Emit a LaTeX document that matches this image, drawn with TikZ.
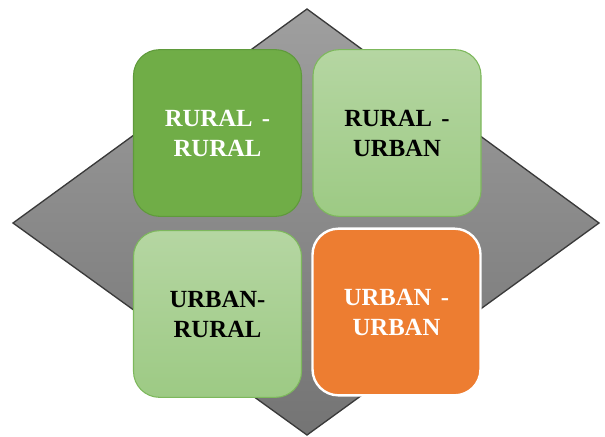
\documentclass[tikz,border=0pt]{standalone}
\usepackage{fontspec}
\setmainfont{Liberation Serif}
\definecolor{leaf}{HTML}{70AD47}
\definecolor{leafedge}{HTML}{5F9A3B}
\definecolor{paletop}{HTML}{B5D6A2}
\definecolor{palebot}{HTML}{9DCA84}
\definecolor{paleedge}{HTML}{7DB85C}
\definecolor{clay}{HTML}{ED7D31}
\definecolor{slatetop}{HTML}{9F9F9F}
\definecolor{slatebot}{HTML}{747474}
\definecolor{slateedge}{HTML}{3A3A3A}
\usetikzlibrary{positioning}
\tikzset{
  tile/.style={rounded corners=19.5pt, minimum width=126pt, minimum height=125pt,
               align=center, inner sep=0pt, line width=0.8pt,
               font=\fontsize{18.5}{22.5}\selectfont\bfseries},
  darktile/.style={tile, fill=leaf, draw=leafedge, text=white},
  paletile/.style={tile, top color=paletop, bottom color=palebot, draw=paleedge, text=black},
  hottile/.style={tile, fill=clay, draw=white, line width=1.8pt, text=white},
}
\newcommand{\dashgap}{\hspace{0.38em}-}

\begin{document}
\begin{tikzpicture}[x=0.75pt,y=-0.75pt]
\useasboundingbox (0,0) rectangle (605,436);
% grey diamond behind the four tiles
\shade[top color=slatetop, bottom color=slatebot, draw=slateedge, line width=1pt]
  (307,9) -- (599,223) -- (307,435) -- (13,223) -- cycle;
\node[darktile] (rr) at (217.5,133) {RURAL\dashgap\\RURAL};
\node[paletile] (ru) at (397,133) {RURAL\dashgap\\URBAN};
\node[paletile] (ur) at (217.5,314) {URBAN-\\RURAL};
\node[hottile] (uu) at (396.5,312) {URBAN\dashgap\\URBAN};
\end{tikzpicture}
\end{document}
